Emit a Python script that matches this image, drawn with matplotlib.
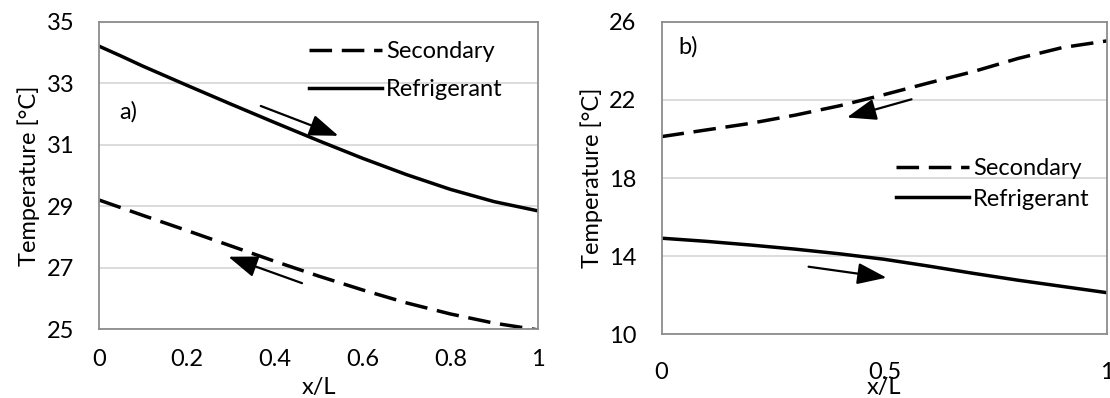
import matplotlib
matplotlib.use("Agg")
import matplotlib.pyplot as plt

plt.rcParams['font.family'] = ['Lato', 'DejaVu Sans']

# a) Werte
xa_refr = [0.0, 0.05, 0.1, 0.2, 0.3, 0.4, 0.5, 0.6, 0.7, 0.8, 0.9, 1.0]
refr_a = [34.2, 33.88, 33.55, 32.93, 32.32, 31.72, 31.13, 30.56, 30.03, 29.55, 29.15, 28.85]
xa_sec = [0.0, 0.1, 0.2, 0.3, 0.4, 0.5, 0.6, 0.7, 0.8, 0.9, 1.0]
sec_a = [29.2, 28.7, 28.21, 27.71, 27.21, 26.73, 26.28, 25.86, 25.5, 25.2, 24.98]

# b)
xb = [0.0, 0.1, 0.2, 0.3, 0.4, 0.5, 0.6, 0.7, 0.8, 0.9, 1.0]
refr_b = [14.92, 14.76, 14.57, 14.36, 14.12, 13.84, 13.49, 13.12, 12.77, 12.45, 12.13]
sec_b = [20.12, 20.46, 20.8, 21.22, 21.7, 22.27, 22.87, 23.45, 24.12, 24.68, 25.02]

xticks_a = [0, 0.2, 0.4, 0.6, 0.8, 1]
xticklabels_a = ["0", "0.2", "0.4", "0.6", "0.8", "1"]
yticks_a = [25, 27, 29, 31, 33, 35]
xticks_b = [0, 0.5, 1]
xticklabels_b = ["0", "0.5", "1"]
yticks_b = [10, 14, 18, 22, 26]

fs = 17
spine_col = "#8c8c8c"
grid_col = "#d9d9d9"

fig = plt.figure(figsize=(11.1, 3.98), dpi=100)
ax1 = fig.add_axes([0.0895, 0.1726, 0.3952, 0.7729])
ax2 = fig.add_axes([0.596, 0.160, 0.4014, 0.7854])


def style(ax, xt, xtl, yt, xpad, xlabpad):
    ax.set_xlim(0, 1)
    ax.set_ylim(yt[0], yt[-1])
    ax.set_xticks(xt)
    ax.set_xticklabels(xtl)
    ax.set_yticks(yt)
    ax.yaxis.grid(True, color=grid_col, linewidth=1.3)
    ax.set_axisbelow(True)
    for s in ax.spines.values():
        s.set_color(spine_col)
        s.set_linewidth(1.3)
    ax.tick_params(axis="both", length=0, labelsize=fs)
    ax.tick_params(axis="x", pad=xpad)
    ax.tick_params(axis="y", pad=18)
    ax.set_xlabel("x/L", fontsize=fs, labelpad=xlabpad)
    ax.set_ylabel("Temperature [°C]", fontsize=fs, labelpad=4.5)


arrow = dict(arrowstyle="-|>,head_length=0.6,head_width=0.22", color="black",
             lw=1.6, mutation_scale=30, shrinkA=0, shrinkB=0)

# --- a) ---
ax1.plot(xa_sec, sec_a, color="black", lw=2.5, dashes=(6.5, 2.8), label="Secondary")
ax1.plot(xa_refr, refr_a, color="black", lw=2.5, label="Refrigerant")
style(ax1, xticks_a, xticklabels_a, yticks_a, 14, 5)
ax1.legend(loc="upper left", bbox_to_anchor=(0.478, 0.937), frameon=False,
           fontsize=fs, handlelength=3.1, handletextpad=0.17, labelspacing=0.71,
           borderpad=0, borderaxespad=0)
ax1.annotate("", xy=(0.545, 31.29), xytext=(0.368, 32.26), arrowprops=arrow)
ax1.annotate("", xy=(0.294, 27.36), xytext=(0.462, 26.5), arrowprops=arrow)
ax1.text(0.065, 32.06, "a)", fontsize=fs, ha="center", va="center")

# --- b) ---
ax2.plot(xb, sec_b, color="black", lw=2.5, dashes=(6.5, 2.8), label="Secondary")
ax2.plot(xb, refr_b, color="black", lw=2.5, label="Refrigerant")
style(ax2, xticks_b, xticklabels_b, yticks_b, 19.6, -4)
ax2.legend(loc="upper left", bbox_to_anchor=(0.526, 0.564), frameon=False,
           fontsize=fs, handlelength=3.1, handletextpad=0.17, labelspacing=0.41,
           borderpad=0, borderaxespad=0)
ax2.annotate("", xy=(0.416, 21.1), xytext=(0.561, 22.03), arrowprops=arrow)
ax2.annotate("", xy=(0.505, 12.9), xytext=(0.33, 13.46), arrowprops=arrow)
ax2.text(0.06, 24.7, "b)", fontsize=fs, ha="center", va="center")

fig.savefig("out.png", dpi=100)
